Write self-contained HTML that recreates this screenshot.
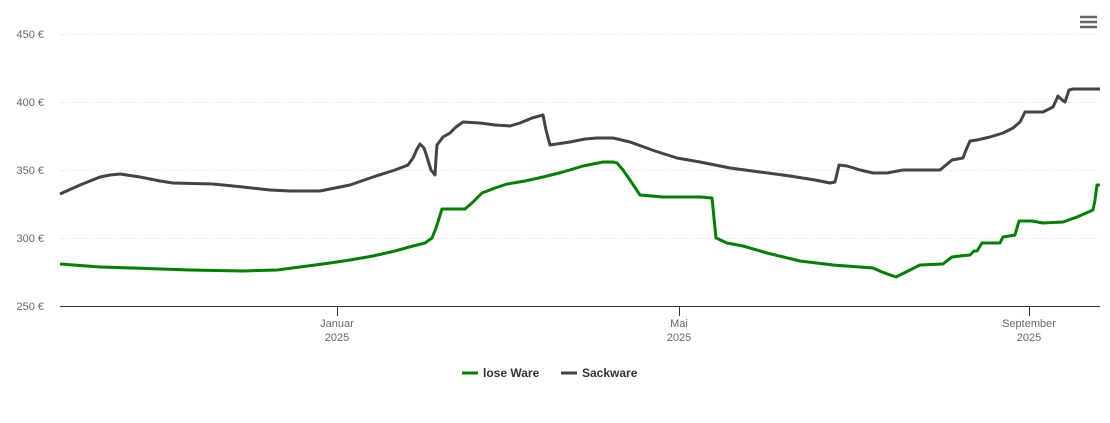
<!DOCTYPE html>
<html><head><meta charset="utf-8"><style>
html,body{margin:0;padding:0;background:#fff;width:1110px;height:423px;overflow:hidden}
svg{display:block;font-family:"Liberation Sans","DejaVu Sans",sans-serif}
</style></head><body>
<svg width="1110" height="423" viewBox="0 0 1110 423">
<g stroke="#d8d8d8" stroke-width="1" stroke-dasharray="1,2">
<line x1="60" y1="34.5" x2="1100" y2="34.5"/>
<line x1="60" y1="102.5" x2="1100" y2="102.5"/>
<line x1="60" y1="170.5" x2="1100" y2="170.5"/>
<line x1="60" y1="238.5" x2="1100" y2="238.5"/>
</g>
<line x1="60" y1="306.5" x2="1100" y2="306.5" stroke="#333" stroke-width="1"/>
<g stroke="#333" stroke-width="1">
<line x1="337.5" y1="306" x2="337.5" y2="316"/>
<line x1="679.5" y1="306" x2="679.5" y2="316"/>
<line x1="1029.5" y1="306" x2="1029.5" y2="316"/>
</g>
<g fill="#666" font-size="11" text-anchor="end">
<text x="44" y="38">450 €</text>
<text x="44" y="106">400 €</text>
<text x="44" y="174">350 €</text>
<text x="44" y="242">300 €</text>
<text x="44" y="310">250 €</text>
</g>
<g fill="#666" font-size="11" text-anchor="middle">
<text x="337" y="327">Januar</text><text x="337" y="341">2025</text>
<text x="679" y="327">Mai</text><text x="679" y="341">2025</text>
<text x="1029" y="327">September</text><text x="1029" y="341">2025</text>
</g>
<polyline fill="none" stroke="#434348" stroke-width="3" stroke-linejoin="round" points="60,194 80,185 100,177 110,175 120,174 140,177 160,181 173,183 213,184 243,187 270,190 290,191 320,191 330,189 350,185 373,177 395,170 408,165 413,158 417,149 420,144 424,148 427,157 431,170 435,175 436,158 437,145 443,137 450,133 456,127 463,122 480,123 495,125 510,126 520,123 532,118 543,115 546,130 550,145 570,142 585,139 597,138 613,138 630,142 655,151 677,158 700,162 730,168 760,172 790,176 815,180 830,183 835,182 839,165 847,166 860,170 873,173 887,173 903,170 940,170 946,165 952,160 963,158 966,150 970,141 977,140 990,137 1003,133 1013,128 1020,122 1025,112 1030,112 1043,112 1053,107 1058,96 1061,99 1065,102 1069,90 1073,89 1100,89"/>
<polyline fill="none" stroke="#008000" stroke-width="3" stroke-linejoin="round" points="60,264 100,267 133,268 190,270 243,271 277,270 300,267 330,263 350,260 373,256 395,251 413,246 425,243 432,238 436,228 442,209 465,209 472,203 482,193 495,188 507,184 525,181 543,177 563,172 583,166 603,162 613,162 617,163 623,170 630,180 640,195 663,197 700,197 712,198 716,238 727,243 743,246 767,253 800,261 833,265 873,268 882,272 896,277 908,271 920,265 943,264 948,260 952,257 960,256 970,255 974,251 977,251 982,243 1000,243 1003,237 1015,235 1019,221 1032,221 1043,223 1063,222 1077,217 1093,210 1095,200 1097,185 1100,185"/>
<g stroke="#666" stroke-width="2.5">
<line x1="1080" y1="17" x2="1097" y2="17"/>
<line x1="1080" y1="22" x2="1097" y2="22"/>
<line x1="1080" y1="27" x2="1097" y2="27"/>
</g>
<line x1="462" y1="373" x2="478" y2="373" stroke="#008000" stroke-width="3"/>
<text x="483" y="377" font-size="12" font-weight="bold" fill="#333">lose Ware</text>
<line x1="561" y1="373" x2="577" y2="373" stroke="#434348" stroke-width="3"/>
<text x="582" y="377" font-size="12" font-weight="bold" fill="#333">Sackware</text>
</svg>
</body></html>
